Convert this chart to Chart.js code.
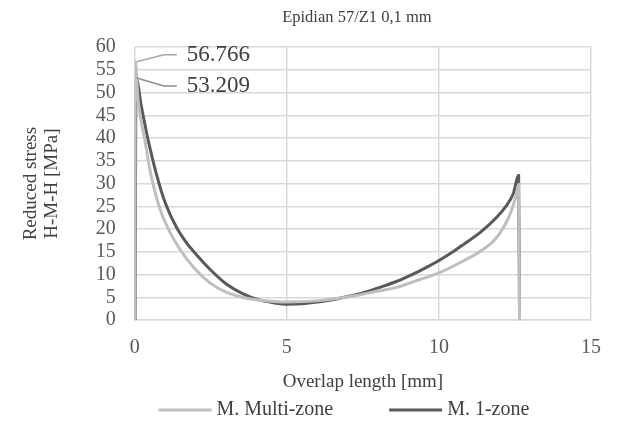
<!DOCTYPE html>
<html>
<head>
<meta charset="utf-8">
<script src="https://cdn.jsdelivr.net/npm/chart.js@4"></script>
<style>
  html, body { margin: 0; padding: 0; background: #fff; }
  #wrap { width: 617px; height: 421px; }
</style>
</head>
<body>
<div id="wrap"><canvas id="chart"></canvas></div>
<script>
// overlap length [mm] and reduced stress [MPa]
const multiX = [0, 0.02, 0.1, 0.2, 0.33, 0.52, 0.82, 1.15, 1.48, 1.92, 2.47, 3.02, 3.56, 4.11, 5.0, 6.09, 7.18, 8.0, 8.61, 9.4, 10.0, 10.8, 11.4, 11.9, 12.34, 12.58, 12.62, 12.65];
const multiY = [0, 56.766, 49.0, 44.0, 39.5, 32.3, 24.6, 19.4, 15.6, 11.7, 8.2, 6.1, 5.0, 4.4, 4.0, 4.3, 5.3, 6.4, 7.2, 9.0, 10.4, 13.0, 15.3, 18.2, 23.3, 28.5, 29.8, 0];

const oneX = [0.01, 0.04, 0.22, 0.44, 0.71, 1.0, 1.37, 1.7, 1.92, 2.47, 3.02, 3.56, 4.11, 4.6, 5.0, 5.5, 6.0, 6.5, 7.0, 7.5, 8.0, 8.6, 9.2, 9.7, 10.0, 10.5, 10.8, 11.4, 11.9, 12.2, 12.44, 12.62, 12.65];
const oneY = [0, 53.209, 46.8, 39.5, 32.1, 25.8, 20.4, 17.0, 15.2, 11.2, 7.9, 5.8, 4.4, 3.8, 3.5, 3.6, 4.0, 4.5, 5.2, 6.0, 7.1, 8.5, 10.3, 12.0, 13.1, 15.2, 16.6, 19.5, 22.6, 25.0, 27.7, 31.8, 0];

const seriesNames = ['M. Multi-zone', 'M. 1-zone'];
const xTicks = [0, 5, 10, 15];
const chartTitle = 'Epidian 57/Z1 0,1 mm';

const lightGray = '#bfbfbf';
const darkGray = '#595959';
const textGray = '#404040';
const serif = '"Liberation Serif", "DejaVu Serif", serif';

function toPoints(xs, ys) {
    return xs.map((x, i) => ({ x: x, y: ys[i] }));
}

// peak callouts, title and legend drawn by hand to sit where excel put them
const extras = {
    id: 'extras',
    afterDatasetsDraw(chart) {
        const ctx = chart.ctx;
        const xs = chart.scales.x;
        const ys = chart.scales.y;
        const area = chart.chartArea;
        const peaks = [
            { v: Math.max(...multiY), dy: -7, color: '#a6a6a6' },
            { v: Math.max(...oneY), dy: 8, color: '#8c8c8c' }
        ];
        ctx.save();
        peaks.forEach(p => {
            const x0 = xs.getPixelForValue(0) + 2;
            const y0 = ys.getPixelForValue(p.v);
            ctx.strokeStyle = p.color;
            ctx.lineWidth = 1.5;
            ctx.beginPath();
            ctx.moveTo(x0, y0);
            ctx.lineTo(x0 + 27, y0 + p.dy);
            ctx.lineTo(x0 + 40, y0 + p.dy);
            ctx.stroke();
            ctx.fillStyle = textGray;
            ctx.font = '23px ' + serif;
            ctx.textBaseline = 'middle';
            ctx.textAlign = 'left';
            ctx.fillText(p.v.toFixed(3), x0 + 50, y0 + p.dy);
        });

        // title
        ctx.font = '16.5px ' + serif;
        ctx.textAlign = 'center';
        ctx.fillStyle = textGray;
        ctx.fillText(chartTitle, (area.left + area.right) / 2 - 6, 18);

        // legend
        ctx.font = '20px ' + serif;
        ctx.textAlign = 'left';
        const boxW = 53, gapText = 5, gapItem = 56;
        const widths = chart.data.datasets.map(ds => ctx.measureText(ds.label).width);
        const total = widths.reduce((a, w) => a + boxW + gapText + w, 0) + gapItem;
        let x = (area.left + area.right) / 2 - 19 - total / 2;
        const y = 410;
        chart.data.datasets.forEach((ds, i) => {
            ctx.fillStyle = ds.borderColor;
            ctx.fillRect(x, y - 1.5, boxW, 3);
            ctx.fillStyle = textGray;
            ctx.fillText(ds.label, x + boxW + gapText, y);
            x += boxW + gapText + widths[i] + gapItem;
        });
        ctx.restore();
    }
};

new Chart(document.getElementById('chart'), {
    type: 'scatter',
    data: {
        datasets: [{
            label: seriesNames[0],
            data: toPoints(multiX, multiY),
            showLine: true,
            borderColor: lightGray,
            backgroundColor: lightGray,
            borderWidth: 3,
            pointRadius: 0,
            cubicInterpolationMode: 'monotone'
        }, {
            label: seriesNames[1],
            data: toPoints(oneX, oneY),
            showLine: true,
            borderColor: darkGray,
            backgroundColor: darkGray,
            borderWidth: 3,
            pointRadius: 0,
            cubicInterpolationMode: 'monotone'
        }]
    },
    options: {
        responsive: true,
        maintainAspectRatio: false,
        animation: false,
        layout: {
            padding: { left: 8, right: 26, top: 47, bottom: 28 }
        },
        scales: {
            x: {
                type: 'linear',
                min: 0,
                max: 15,
                afterBuildTicks: axis => { axis.ticks = xTicks.map(v => ({ value: v })); },
                grid: { color: '#d9d9d9', lineWidth: 1.5, drawTicks: false },
                border: { color: '#d9d9d9', width: 1.5 },
                ticks: { color: darkGray, padding: 16, font: { family: serif, size: 20 } },
                title: {
                    display: true,
                    text: 'Overlap length [mm]',
                    color: textGray,
                    padding: { top: -6, bottom: 0 },
                    font: { family: serif, size: 19 }
                }
            },
            y: {
                min: 0,
                max: 60,
                ticks: { stepSize: 5, autoSkip: false, color: darkGray, padding: 19, font: { family: serif, size: 20 } },
                grid: { color: '#d9d9d9', lineWidth: 1.5, drawTicks: false },
                border: { display: false },
                title: {
                    display: true,
                    text: ['Reduced stress', 'H-M-H [MPa]'],
                    color: textGray,
                    padding: { top: 13, bottom: 14 },
                    font: { family: serif, size: 19, lineHeight: 1.1 }
                }
            }
        },
        plugins: {
            title: { display: false },
            legend: { display: false },
            tooltip: { enabled: false }
        }
    },
    plugins: [extras]
});
</script>
</body>
</html>
